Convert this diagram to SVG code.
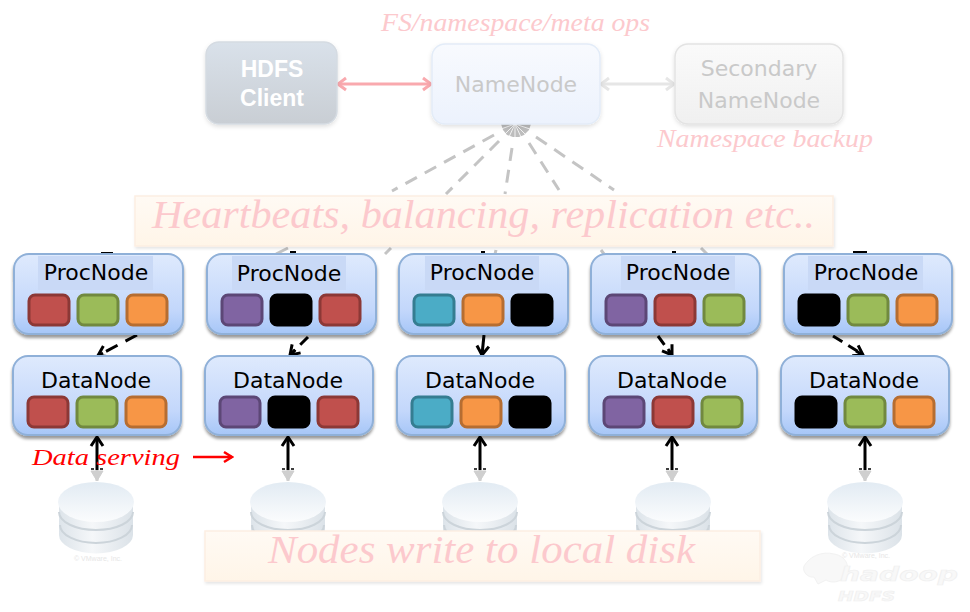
<svg xmlns="http://www.w3.org/2000/svg" width="970" height="612" viewBox="0 0 970 612">
<style>
.nd{stroke:#8fb0d8;stroke-width:2;fill:url(#gNode);filter:url(#sh)}
.ttl{fill:#c9d9f6}
.lb{font-family:"DejaVu Sans",sans-serif;font-size:22px;fill:#000;text-anchor:middle}
.lg{font-family:"DejaVu Sans",sans-serif;font-size:22px;fill:#c9c9c9;text-anchor:middle}
.hw{font-family:"Liberation Serif",serif;font-style:italic;fill:#fcc9cd}
.s{stroke-width:3}
.r{fill:#c0504d;stroke:#8c3836}.g{fill:#9bbb59;stroke:#71893f}.o{fill:#f79646;stroke:#b66d31}
.p{fill:#8064a2;stroke:#5c4776}.t{fill:#4bacc6;stroke:#357d91}.k{fill:#000;stroke:#000}
.dash{stroke:#c4c4c4;stroke-width:3;stroke-dasharray:13 9;fill:none}
.stub{stroke:#c4c4c4;stroke-width:3;fill:none}
.ar{fill:none;stroke-width:3}
.bk{stroke:#000}
.ban{fill:url(#gBan);stroke:#fdeee2;stroke-width:1.5;filter:url(#sh2)}
.vm{font-family:"Liberation Sans",sans-serif;font-size:7px;fill:#e6e6e6;text-anchor:middle}
.bnd{fill:none;stroke:#ccd4da;stroke-width:2}
.hl{font-family:"DejaVu Sans",sans-serif;font-weight:bold;font-style:italic;fill:#f8f8f8;stroke:#f0f0f0;stroke-width:.7}
</style>
<defs>
<linearGradient id="gNode" x1="0" y1="0" x2="0" y2="1"><stop offset="0" stop-color="#dfeafd"/><stop offset=".7" stop-color="#c3d7fb"/><stop offset="1" stop-color="#a6c6f7"/></linearGradient>
<linearGradient id="gCl" x1="0" y1="0" x2="0" y2="1"><stop offset="0" stop-color="#d9e1ea"/><stop offset="1" stop-color="#c9ced4"/></linearGradient>
<linearGradient id="gNN" x1="0" y1="0" x2="0" y2="1"><stop offset="0" stop-color="#f8fafe"/><stop offset="1" stop-color="#ecf2fd"/></linearGradient>
<linearGradient id="gSN" x1="0" y1="0" x2="0" y2="1"><stop offset="0" stop-color="#fafafa"/><stop offset="1" stop-color="#f0f0f0"/></linearGradient>
<linearGradient id="gBan" x1="0" y1="0" x2="0" y2="1"><stop offset="0" stop-color="#fffaf4"/><stop offset="1" stop-color="#fff5e8"/></linearGradient>
<linearGradient id="gTop" x1="0" y1="0" x2="0" y2="1"><stop offset="0" stop-color="#e2ebf3"/><stop offset="1" stop-color="#fbfcfd"/></linearGradient>
<linearGradient id="gSide" x1="0" y1="0" x2="1" y2="0"><stop offset="0" stop-color="#dde4ea"/><stop offset=".45" stop-color="#f5f7f9"/><stop offset="1" stop-color="#dbe2e8"/></linearGradient>
<filter id="sh" x="-5%" y="-5%" width="110%" height="120%"><feDropShadow dx="0" dy="3" stdDeviation="1.500" flood-color="#000" flood-opacity=".4"/></filter>
<filter id="shl" x="-5%" y="-5%" width="110%" height="120%"><feDropShadow dx="0" dy="2" stdDeviation="2" flood-color="#000" flood-opacity=".12"/></filter>
<filter id="sh2" x="-2%" y="-5%" width="104%" height="115%"><feDropShadow dx="1" dy="2" stdDeviation="1.500" flood-color="#000" flood-opacity=".1"/></filter>
<marker id="mP" markerUnits="userSpaceOnUse" markerWidth="14" markerHeight="16" refX="12" refY="8" orient="auto-start-reverse"><path d="M4,2 L12,8 L4,14" fill="none" stroke="#f9a9ae" stroke-width="3"/></marker>
<marker id="mG" markerUnits="userSpaceOnUse" markerWidth="14" markerHeight="16" refX="12" refY="8" orient="auto-start-reverse"><path d="M4,2 L12,8 L4,14" fill="none" stroke="#e6e6e6" stroke-width="3"/></marker>
<marker id="mK" markerUnits="userSpaceOnUse" markerWidth="14" markerHeight="16" refX="12" refY="8" orient="auto-start-reverse"><path d="M3,2 L12,8 L3,14" fill="none" stroke="#000" stroke-width="3"/></marker>
<marker id="mR" markerUnits="userSpaceOnUse" markerWidth="14" markerHeight="16" refX="12" refY="8" orient="auto-start-reverse"><path d="M4,3 L12,8 L4,13" fill="none" stroke="#f00" stroke-width="2.500"/></marker>
<marker id="mL" markerUnits="userSpaceOnUse" markerWidth="14" markerHeight="16" refX="12" refY="8" orient="auto-start-reverse"><path d="M2,2 L12,8 L2,14 Z" fill="#cfcfcf" stroke="#cfcfcf" stroke-width="1"/></marker>
<g id="dsk">
<path d="M-37,505 V535 A36,18 0 0 0 37,535 V505 Z" fill="url(#gSide)"/>
<path class="bnd" d="M-37,512 A37,18 0 0 0 37,512"/>
<path class="bnd" d="M-36,525 A36,18 0 0 0 36,525"/>
<ellipse cx="0" cy="502" rx="38" ry="20" fill="url(#gTop)"/>
</g>
</defs>
<rect width="970" height="612" fill="#fff"/>
<g id="connectors">
<path class="dash" d="M494,135L392,191"/>
<path class="dash" d="M499,141L446,194"/>
<path class="dash" d="M512,148L505,194"/>
<path class="dash" d="M529,143L559,190"/>
<path class="dash" d="M536,137L614,190"/>
<path class="stub" d="M288,248L276,254M391,248L385,254M496,250L495,254M601,250L604,254M701,248L707,254"/>
<path fill="#bdbdbd" d="M501,124H531L529,130L524,135L519,137L513,137L507,135L503,130Z"/>
<path stroke="#fff" stroke-width=".8" fill="none" d="M515,124L504,135M515,124L509,137M515,124L515,138M515,124L521,137M515,124L526,135M515,124L501,129M515,124L530,129"/>
<path class="ar" stroke="#f9a9ae" marker-start="url(#mP)" marker-end="url(#mP)" d="M338,84H431"/>
<path class="ar" stroke="#e6e6e6" marker-start="url(#mG)" marker-end="url(#mG)" d="M601,84H674"/>
<path d="M101,253H113M290,252H296M481,252H485M672,252H676M853,252H867" stroke="#000" stroke-width="2" fill="none"/>
<path class="ar bk" stroke-dasharray="13 9" d="M137,335L99,355"/>
<path class="ar bk" marker-end="url(#mK)" d="M103,353L98,355.500"/>
<path class="ar bk" stroke-dasharray="11 7" d="M308,337L291,354"/>
<path class="ar bk" marker-end="url(#mK)" d="M295,350L290,355"/>
<path class="ar bk" marker-end="url(#mK)" d="M484,335L482,355"/>
<path class="ar bk" stroke-dasharray="11 7" d="M658,336L671,354"/>
<path class="ar bk" marker-end="url(#mK)" d="M668,349L672,355"/>
<path class="ar bk" stroke-dasharray="11 7" d="M833,336L862,354"/>
<path class="ar bk" marker-end="url(#mK)" d="M856,351L863,355"/>
<path class="ar bk" marker-start="url(#mK)" d="M97,437V470"/>
<path class="ar bk" marker-start="url(#mK)" d="M288,437V470"/>
<path class="ar bk" marker-start="url(#mK)" d="M480,437V470"/>
<path class="ar bk" marker-start="url(#mK)" d="M672,437V470"/>
<path class="ar bk" marker-start="url(#mK)" d="M865,437V470"/>
<path d="M91,469h3M100,469h3M282,469h3M291,469h3M474,469h3M483,469h3M666,469h3M675,469h3M859,469h3M868,469h3" stroke="#000" stroke-width="1.500"/>
<path class="ar" stroke="#cfcfcf" marker-end="url(#mL)" d="M97,470V481"/>
<path class="ar" stroke="#cfcfcf" marker-end="url(#mL)" d="M288,470V481"/>
<path class="ar" stroke="#cfcfcf" marker-end="url(#mL)" d="M480,470V481"/>
<path class="ar" stroke="#cfcfcf" marker-end="url(#mL)" d="M672,470V481"/>
<path class="ar" stroke="#cfcfcf" marker-end="url(#mL)" d="M865,470V481"/>
<path fill="none" stroke="#f00" stroke-width="2.500" marker-end="url(#mR)" d="M193,457H232"/>
</g>
<g id="disks">
<use id="disk1" href="#dsk" x="96"/>
<use id="disk2" href="#dsk" x="288"/>
<use id="disk3" href="#dsk" x="480"/>
<use id="disk4" href="#dsk" x="673"/>
<use id="disk5" href="#dsk" x="865"/>
<text class="vm" x="98" y="561">© VMware, Inc.</text>
<text class="vm" x="866" y="558">© VMware, Inc.</text>
</g>
<g id="hdfs-client">
<rect x="206" y="42" width="131" height="82" rx="13" fill="url(#gCl)" stroke="#d5dbe2" stroke-width="1.500" filter="url(#shl)"/>
<text x="272" y="77" text-anchor="middle" font-family="Liberation Sans, sans-serif" font-weight="bold" font-size="23" fill="#fff">HDFS</text>
<text x="272" y="106" text-anchor="middle" font-family="Liberation Sans, sans-serif" font-weight="bold" font-size="23" fill="#fff">Client</text>
</g>
<g id="namenode">
<rect x="432" y="44" width="168" height="80" rx="13" fill="url(#gNN)" stroke="#e3ecf8" stroke-width="1.500" filter="url(#shl)"/>
<text class="lg" x="516" y="92">NameNode</text>
</g>
<g id="secondary-namenode">
<rect x="675" y="44" width="168" height="80" rx="13" fill="url(#gSN)" stroke="#e3e3e3" stroke-width="1.500" filter="url(#shl)"/>
<text class="lg" x="759" y="76">Secondary</text>
<text class="lg" x="759" y="108">NameNode</text>
</g>
<text class="hw" x="381" y="31" font-size="25" textLength="269" lengthAdjust="spacingAndGlyphs">FS/namespace/meta ops</text>
<text class="hw" x="657" y="147" font-size="25" textLength="216" lengthAdjust="spacingAndGlyphs">Namespace backup</text>
<g id="banner-heartbeats">
<rect class="ban" x="135" y="196" width="698" height="50"/>
<text class="hw" x="152" y="228" font-size="41" textLength="663" lengthAdjust="spacingAndGlyphs">Heartbeats, balancing, replication etc..</text>
</g>
<g id="procnode1">
<rect class="nd" x="14" y="254" width="169" height="80" rx="15"/><rect class="ttl" x="38" y="256" width="115" height="34"/>
<text class="lb" x="96" y="280">ProcNode</text>
<g class="s"><rect class="r" x="29" y="295" width="40" height="30" rx="6"/><rect class="g" x="78" y="295" width="40" height="30" rx="6"/><rect class="o" x="127" y="295" width="40" height="30" rx="6"/></g>
</g>
<g id="procnode2">
<rect class="nd" x="207" y="254" width="169" height="80" rx="15"/><rect class="ttl" x="232" y="256" width="114" height="34"/>
<text class="lb" x="289" y="281">ProcNode</text>
<g class="s"><rect class="p" x="222" y="295" width="40" height="30" rx="6"/><rect class="k" x="271" y="295" width="40" height="30" rx="6"/><rect class="r" x="320" y="295" width="40" height="30" rx="6"/></g>
</g>
<g id="procnode3">
<rect class="nd" x="399" y="254" width="169" height="80" rx="15"/><rect class="ttl" x="425" y="256" width="114" height="34"/>
<text class="lb" x="482" y="280">ProcNode</text>
<g class="s"><rect class="t" x="414" y="295" width="40" height="30" rx="6"/><rect class="o" x="463" y="295" width="40" height="30" rx="6"/><rect class="k" x="512" y="295" width="40" height="30" rx="6"/></g>
</g>
<g id="procnode4">
<rect class="nd" x="591" y="254" width="169" height="80" rx="15"/><rect class="ttl" x="621" y="256" width="114" height="34"/>
<text class="lb" x="678" y="280">ProcNode</text>
<g class="s"><rect class="p" x="606" y="295" width="40" height="30" rx="6"/><rect class="r" x="655" y="295" width="40" height="30" rx="6"/><rect class="g" x="704" y="295" width="40" height="30" rx="6"/></g>
</g>
<g id="procnode5">
<rect class="nd" x="784" y="254" width="168" height="80" rx="15"/><rect class="ttl" x="808" y="256" width="115" height="34"/>
<text class="lb" x="866" y="280">ProcNode</text>
<g class="s"><rect class="k" x="799" y="295" width="40" height="30" rx="6"/><rect class="g" x="848" y="295" width="40" height="30" rx="6"/><rect class="o" x="897" y="295" width="40" height="30" rx="6"/></g>
</g>
<g id="datanode1">
<rect class="nd" x="13" y="356" width="168" height="79" rx="15"/>
<text class="lb" x="96" y="388">DataNode</text>
<g class="s"><rect class="r" x="28" y="397" width="40" height="30" rx="6"/><rect class="g" x="77" y="397" width="40" height="30" rx="6"/><rect class="o" x="126" y="397" width="40" height="30" rx="6"/></g>
</g>
<g id="datanode2">
<rect class="nd" x="205" y="356" width="168" height="79" rx="15"/>
<text class="lb" x="288" y="388">DataNode</text>
<g class="s"><rect class="p" x="220" y="397" width="40" height="30" rx="6"/><rect class="k" x="269" y="397" width="40" height="30" rx="6"/><rect class="r" x="318" y="397" width="40" height="30" rx="6"/></g>
</g>
<g id="datanode3">
<rect class="nd" x="397" y="356" width="168" height="79" rx="15"/>
<text class="lb" x="480" y="388">DataNode</text>
<g class="s"><rect class="t" x="412" y="397" width="40" height="30" rx="6"/><rect class="o" x="461" y="397" width="40" height="30" rx="6"/><rect class="k" x="510" y="397" width="40" height="30" rx="6"/></g>
</g>
<g id="datanode4">
<rect class="nd" x="589" y="356" width="168" height="79" rx="15"/>
<text class="lb" x="672" y="388">DataNode</text>
<g class="s"><rect class="p" x="604" y="397" width="40" height="30" rx="6"/><rect class="r" x="653" y="397" width="40" height="30" rx="6"/><rect class="g" x="702" y="397" width="40" height="30" rx="6"/></g>
</g>
<g id="datanode5">
<rect class="nd" x="781" y="356" width="168" height="79" rx="15"/>
<text class="lb" x="864" y="388">DataNode</text>
<g class="s"><rect class="k" x="796" y="397" width="40" height="30" rx="6"/><rect class="g" x="845" y="397" width="40" height="30" rx="6"/><rect class="o" x="894" y="397" width="40" height="30" rx="6"/></g>
</g>
<text x="32" y="465" font-family="Liberation Serif, serif" font-style="italic" font-size="24" fill="#f00" textLength="148" lengthAdjust="spacingAndGlyphs">Data serving</text>
<g id="banner-disk">
<rect class="ban" x="205" y="531" width="555" height="50"/>
<text class="hw" x="268" y="563" font-size="41" textLength="427" lengthAdjust="spacingAndGlyphs">Nodes write to local disk</text>
</g>
<g id="hadoop-logo">
<path d="M804,566C810,556 822,551 834,554C846,556 850,566 846,574C843,582 832,584 826,580L818,584L814,577C808,578 802,572 804,566Z" fill="#f8f8f8" stroke="#f2f2f2"/>
<text class="hl" x="840" y="581" font-size="19" textLength="118" lengthAdjust="spacingAndGlyphs">hadoop</text>
<text class="hl" x="838" y="601" font-size="14" textLength="57" lengthAdjust="spacingAndGlyphs">HDFS</text>
</g>
</svg>
